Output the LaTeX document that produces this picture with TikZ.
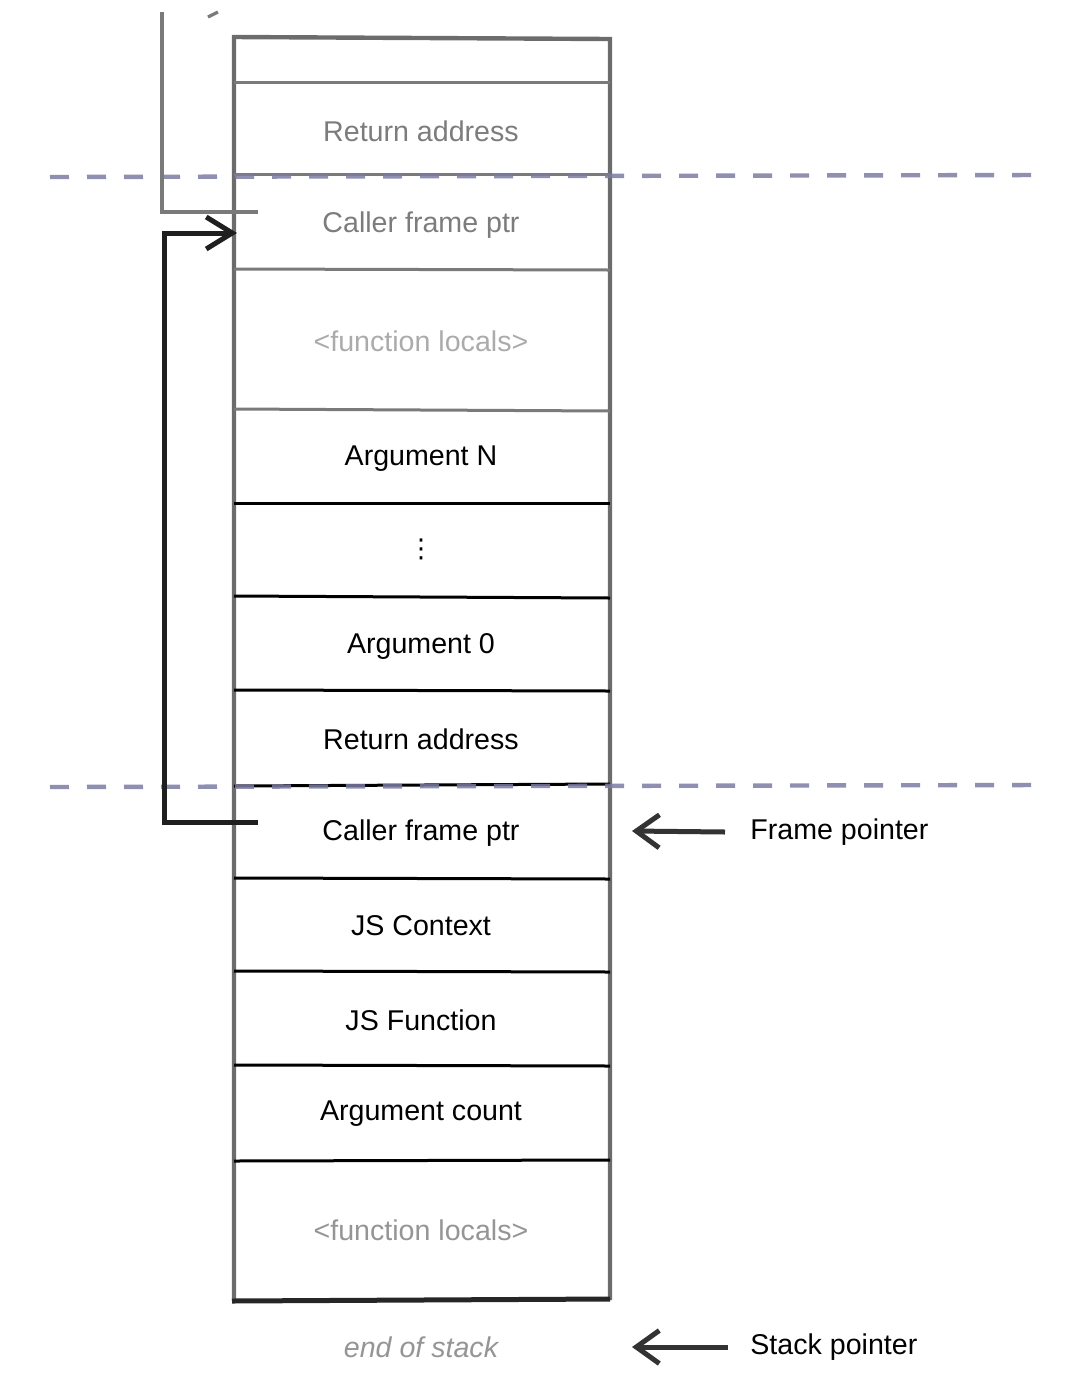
\documentclass[tikz,border=0pt]{standalone}
\usepackage{fontspec}
\setmainfont{Liberation Sans}
\newfontfamily\symbolfont{DejaVu Sans}
\usetikzlibrary{arrows.meta}
\definecolor{framegray}{HTML}{6C6C6C}
\definecolor{oldline}{HTML}{7A7A7A}
\definecolor{oldtext}{HTML}{7C7C7C}
\definecolor{ghosttext}{HTML}{ABABAB}
\definecolor{localtext}{HTML}{959595}
\definecolor{sepblue}{HTML}{7B7BA3}
\begin{document}
\begin{tikzpicture}[x=0.5pt,y=-0.5pt,
    cell/.style={font=\fontsize{14.3}{17}\selectfont, text=black},
    oldcell/.style={cell, text=oldtext},
    ghostcell/.style={cell, text=ghosttext},
    localcell/.style={cell, text=localtext},
    endcell/.style={cell, text=localtext, font=\fontsize{14.3}{17}\selectfont\itshape},
    note/.style={cell, anchor=west, inner sep=0pt},
    frameline/.style={draw=framegray, line width=2.2pt},
    olddiv/.style={draw=oldline, line width=1.5pt},
    newdiv/.style={draw=black, line width=1.5pt},
    sep/.style={draw=sepblue, line width=2.2pt, dash pattern=on 9.5pt off 9pt, opacity=0.85},
    link/.style={draw=black!88, line width=2.5pt, -{Straight Barb[length=13pt,width=16pt]}},
    oldlink/.style={draw=oldline, line width=1.6pt},
    pointer/.style={draw=black!80, line width=2.5pt, -{Straight Barb[length=11.5pt,width=16.5pt]}}]
    \useasboundingbox (0,0) rectangle (1080,1383);
    \draw[frameline] (234,1300) -- (234,37) -- (610,39) -- (610,1300);
    \draw[olddiv] (234,82) -- (610,82);
    \draw[olddiv] (234,174) -- (610,174);
    \draw[olddiv] (234,269) -- (610,270);
    \draw[olddiv] (234,409) -- (610,411);
    \draw[newdiv] (234,503) -- (610,503);
    \draw[newdiv] (234,596) -- (610,598);
    \draw[newdiv] (234,690) -- (610,691);
    \draw[newdiv] (234,786) -- (610,784);
    \draw[newdiv] (234,878) -- (610,879);
    \draw[newdiv] (234,971) -- (610,972);
    \draw[newdiv] (234,1065) -- (610,1066);
    \draw[newdiv] (234,1161) -- (610,1160);
    \draw[draw=black!85, line width=2.5pt] (232,1301) -- (610,1299);
    \draw[sep] (50,177) -- (1042,175);
    \draw[sep] (50,787) -- (1042,785);
    \node[oldcell] (retold) at (421,131) {Return address};
    \node[oldcell] (callerold) at (421,225) {Caller frame ptr};
    \node[ghostcell] (localsold) at (421,341) {<function locals>};
    \node[cell] (argn) at (421,459) {Argument N};
    \node[cell, font=\fontsize{13}{15}\symbolfont] (argdots) at (421,549) {⋮};
    \node[cell] (arg0) at (421,646) {Argument 0};
    \node[cell] (ret) at (421,739) {Return address};
    \node[cell] (caller) at (421,833) {Caller frame ptr};
    \node[cell] (jsctx) at (421,926) {JS Context};
    \node[cell] (jsfun) at (421,1020) {JS Function};
    \node[cell] (argc) at (421,1114) {Argument count};
    \node[localcell] (locals) at (421,1230) {<function locals>};
    \node[endcell] (eos) at (421,1347) {end of stack};
    \node[note] (fp) at (750,832) {Frame pointer};
    \node[note] (sp) at (750,1347) {Stack pointer};
    \coordinate (oldtop) at (162,12);
    \coordinate (oldend) at (258,212);
    \coordinate (cfbot) at (258,822);
    \coordinate (cftop) at (237,233);
    \coordinate (fptip) at (632,831);
    \coordinate (sptip) at (632,1347);
    \draw[oldlink] (oldtop) |- (oldend);
    \draw[oldlink] (208,17) -- (218,12);
    \draw[link] (cfbot) -- ++(-94,0) |- (cftop);
    \draw[pointer] ([xshift=-12.5pt]fp.west) -- (fptip);
    \draw[pointer] ([xshift=-11pt]sp.west) -- (sptip);
\end{tikzpicture}
\end{document}
